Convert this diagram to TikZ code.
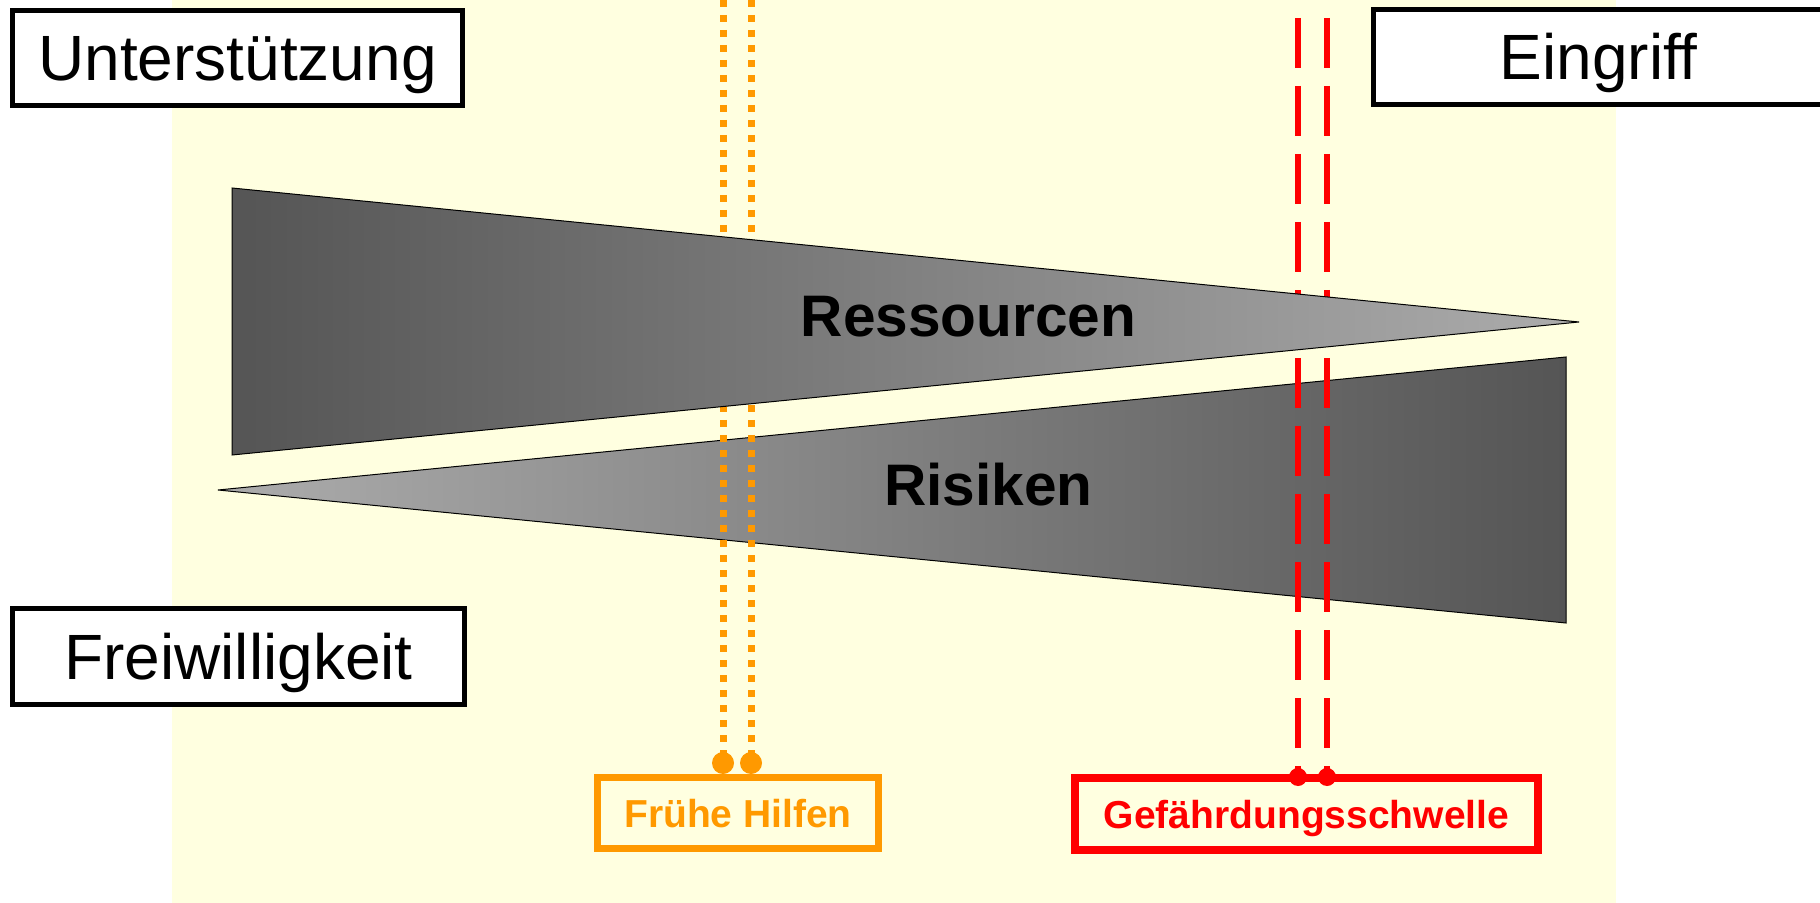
\documentclass[tikz,border=0pt]{standalone}
\usepackage{fontspec}
\setmainfont{Liberation Sans}
\definecolor{bgyellow}{RGB}{255,255,224}
\definecolor{hilforange}{RGB}{255,153,0}
\definecolor{dangerred}{RGB}{255,0,0}
\definecolor{darkwedge}{RGB}{85,85,85}
\definecolor{lightwedge}{RGB}{172,172,172}
\begin{document}
\begin{tikzpicture}[x=0.5pt,y=-0.5pt,
  labelbox/.style={draw=black, line width=2.5pt, fill=white, inner sep=0pt,
    font=\fontsize{32pt}{36pt}\selectfont, text height=22.9pt, text depth=0pt},
  wedge/.style={draw=black, line width=0.5pt},
  wedgelabel/.style={inner sep=0pt, font=\fontsize{29.3pt}{33pt}\selectfont\bfseries,
    text height=21pt, text depth=0pt},
  orangeline/.style={draw=hilforange, line width=3.5pt, dash pattern=on 3.5pt off 4pt},
  redline/.style={draw=dangerred, line width=3pt, dash pattern=on 25pt off 9pt, dash phase=25pt},
  orangedot/.style={circle, fill=hilforange, minimum size=11pt, inner sep=0pt},
  reddot/.style={circle, fill=dangerred, minimum size=9pt, inner sep=0pt},
  thresholdbox/.style={inner sep=0pt, font=\fontsize{19.5pt}{22pt}\selectfont\bfseries,
    text height=14pt, text depth=0pt}
]
\useasboundingbox (0,0) rectangle (1820,903);
\clip (0,0) rectangle (1820,903);
\fill[white] (0,0) rectangle (1820,903);
\fill[bgyellow] (172,0) rectangle (1616,903);

% Risiken wedge (below the lines)
\draw[wedge, left color=lightwedge, right color=darkwedge]
  (218,490) -- (1566,357) -- (1566,623) -- cycle;

% threshold lines
\coordinate (ot1) at (723,0);
\coordinate (ot2) at (751,0);
\coordinate (oc1) at (723,763);
\coordinate (oc2) at (751,763);
\coordinate (rt1) at (1298,0);
\coordinate (rt2) at (1327,0);
\coordinate (rc1) at (1298,777);
\coordinate (rc2) at (1327,777);
\draw[orangeline] (ot1) -- (oc1);
\draw[orangeline] (ot2) -- (oc2);
\draw[redline] (rt1) -- (rc1);
\draw[redline] (rt2) -- (rc2);

% Ressourcen wedge (above the lines)
\draw[wedge, left color=darkwedge, right color=lightwedge]
  (232,188) -- (1579,322) -- (232,455) -- cycle;

\node[wedgelabel] (res) at (968.5,316) {Ressourcen};
\node[wedgelabel] (ris) at (988.5,484) {Risiken};

% corner labels
\node[labelbox, minimum width=225pt, minimum height=47.5pt] (unt) at (237.5,58) {Unterstützung};
\node[labelbox, minimum width=226pt, minimum height=48pt] (frei) at (238.5,656.5) {Freiwilligkeit};
\node[labelbox, minimum width=225.25pt, minimum height=47.5pt] (ein) at (1598.75,57) {Eingriff};

% threshold boxes
\node[thresholdbox, draw=hilforange, text=hilforange, line width=3.5pt,
  minimum width=140.5pt, minimum height=35.5pt] (fh) at (738,813) {Frühe Hilfen};
\node[thresholdbox, draw=dangerred, text=dangerred, line width=4pt,
  minimum width=231.5pt, minimum height=36pt] (gs) at (1306.5,814) {Gefährdungsschwelle};

% dots
\node[orangedot] (od1) at (oc1) {};
\node[orangedot] (od2) at (oc2) {};
\node[reddot] (rd1) at (rc1) {};
\node[reddot] (rd2) at (rc2) {};
\end{tikzpicture}
\end{document}
